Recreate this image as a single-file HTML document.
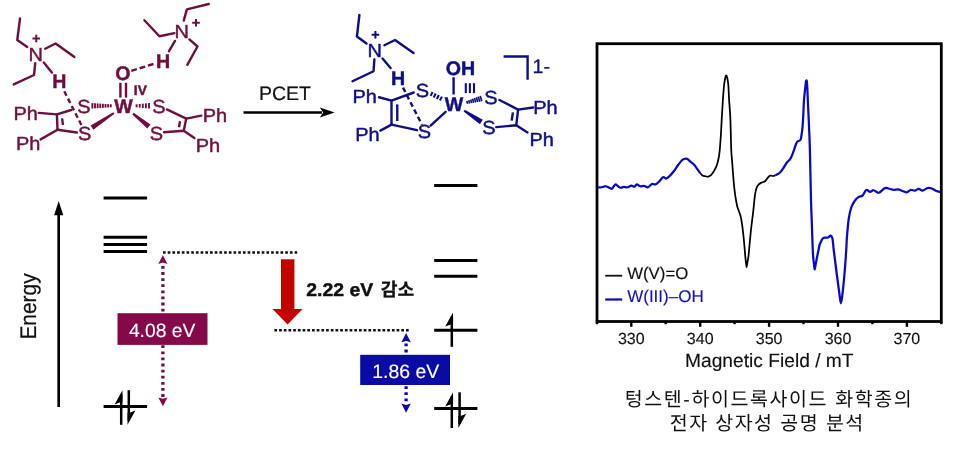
<!DOCTYPE html>
<html><head><meta charset="utf-8"><title>PCET tungsten hydroxide</title>
<style>
html,body{margin:0;padding:0;background:#fff;}
body{width:960px;height:450px;overflow:hidden;}
svg{display:block;font-family:"Liberation Sans",sans-serif;will-change:transform;}
text{text-rendering:geometricPrecision;}
</style></head><body>
<svg width="960" height="450" viewBox="0 0 960 450">
<rect width="960" height="450" fill="#fff"/>
<polyline points="20.00,18.50 17.25,40.00 27.25,46.90" fill="none" stroke="#6f0f41" stroke-width="2.4" stroke-linecap="round" stroke-linejoin="round" />
<polyline points="45.25,48.75 55.60,43.50 74.40,56.90" fill="none" stroke="#6f0f41" stroke-width="2.4" stroke-linecap="round" stroke-linejoin="round" />
<polyline points="35.25,63.10 34.00,75.00 13.75,84.40" fill="none" stroke="#6f0f41" stroke-width="2.4" stroke-linecap="round" stroke-linejoin="round" />
<polyline points="43.75,62.50 51.90,72.50" fill="none" stroke="#6f0f41" stroke-width="2.4" stroke-linecap="round" stroke-linejoin="round" />
<polyline points="32.45,38.50 40.05,38.50" fill="none" stroke="#6f0f41" stroke-width="2.0" stroke-linecap="butt" stroke-linejoin="round" />
<polyline points="36.25,34.70 36.25,42.30" fill="none" stroke="#6f0f41" stroke-width="2.0" stroke-linecap="butt" stroke-linejoin="round" />
<text transform="translate(28.4,60.7) scale(1.05,1)" font-size="19.0" fill="#6f0f41" font-weight="normal" text-anchor="start" stroke="#6f0f41" stroke-width="0.45" stroke-linejoin="round" >N</text>
<text x="52.35" y="88.2" font-size="19.6" fill="#6f0f41" font-weight="bold" text-anchor="start" stroke="#6f0f41" stroke-width="0.45" stroke-linejoin="round" >H</text>
<line x1="64.3" y1="91.3" x2="81.8" y2="125.8" stroke="#6f0f41" stroke-width="2.4" stroke-dasharray="5 3.2"/>
<text transform="translate(13.5,119.5) scale(1.05,1)" font-size="19.0" fill="#6f0f41" font-weight="normal" text-anchor="start" stroke="#6f0f41" stroke-width="0.45" stroke-linejoin="round" >Ph</text>
<text transform="translate(16.0,149.5) scale(1.05,1)" font-size="19.0" fill="#6f0f41" font-weight="normal" text-anchor="start" stroke="#6f0f41" stroke-width="0.45" stroke-linejoin="round" >Ph</text>
<polyline points="38.75,112.90 56.90,114.40 71.25,110.00" fill="none" stroke="#6f0f41" stroke-width="2.4" stroke-linecap="round" stroke-linejoin="round" />
<polyline points="56.90,114.40 57.50,129.75" fill="none" stroke="#6f0f41" stroke-width="2.4" stroke-linecap="round" stroke-linejoin="round" />
<polyline points="62.10,118.30 63.00,125.00" fill="none" stroke="#6f0f41" stroke-width="2.4" stroke-linecap="butt" stroke-linejoin="round" />
<polyline points="57.50,129.75 76.90,132.50" fill="none" stroke="#6f0f41" stroke-width="2.4" stroke-linecap="round" stroke-linejoin="round" />
<polyline points="40.60,139.40 57.50,129.75" fill="none" stroke="#6f0f41" stroke-width="2.4" stroke-linecap="round" stroke-linejoin="round" />
<text transform="translate(77.3,113.2) scale(1.05,1)" font-size="19.0" fill="#6f0f41" font-weight="normal" text-anchor="start" stroke="#6f0f41" stroke-width="0.45" stroke-linejoin="round" >S</text>
<text transform="translate(77.9,139.9) scale(1.05,1)" font-size="19.0" fill="#6f0f41" font-weight="normal" text-anchor="start" stroke="#6f0f41" stroke-width="0.45" stroke-linejoin="round" >S</text>
<polyline points="92.40,103.10 92.40,108.50" fill="none" stroke="#6f0f41" stroke-width="1.9" stroke-linecap="butt" stroke-linejoin="round" />
<polyline points="95.03,103.27 95.03,108.33" fill="none" stroke="#6f0f41" stroke-width="1.9" stroke-linecap="butt" stroke-linejoin="round" />
<polyline points="97.66,103.44 97.66,108.16" fill="none" stroke="#6f0f41" stroke-width="1.9" stroke-linecap="butt" stroke-linejoin="round" />
<polyline points="100.29,103.61 100.29,107.99" fill="none" stroke="#6f0f41" stroke-width="1.9" stroke-linecap="butt" stroke-linejoin="round" />
<polyline points="102.91,103.79 102.91,107.81" fill="none" stroke="#6f0f41" stroke-width="1.9" stroke-linecap="butt" stroke-linejoin="round" />
<polyline points="105.54,103.96 105.54,107.64" fill="none" stroke="#6f0f41" stroke-width="1.9" stroke-linecap="butt" stroke-linejoin="round" />
<polyline points="108.17,104.13 108.17,107.47" fill="none" stroke="#6f0f41" stroke-width="1.9" stroke-linecap="butt" stroke-linejoin="round" />
<polyline points="110.80,104.30 110.80,107.30" fill="none" stroke="#6f0f41" stroke-width="1.9" stroke-linecap="butt" stroke-linejoin="round" />
<polygon points="114.48,113.87 93.41,129.72 90.59,125.48 113.32,112.13" fill="#6f0f41"/>
<text x="115.35000000000001" y="80.1" font-size="19.6" fill="#6f0f41" font-weight="bold" text-anchor="start" stroke="#6f0f41" stroke-width="0.45" stroke-linejoin="round" >O</text>
<polyline points="120.40,82.80 120.40,97.60" fill="none" stroke="#6f0f41" stroke-width="2.4" stroke-linecap="butt" stroke-linejoin="round" />
<polyline points="126.00,82.80 126.00,97.60" fill="none" stroke="#6f0f41" stroke-width="2.4" stroke-linecap="butt" stroke-linejoin="round" />
<text x="133.85" y="94.8" font-size="13.8" fill="#6f0f41" font-weight="bold" text-anchor="start" stroke="#6f0f41" stroke-width="0.45" stroke-linejoin="round" >IV</text>
<text x="114.25" y="113.2" font-size="19.6" fill="#6f0f41" font-weight="bold" text-anchor="start" stroke="#6f0f41" stroke-width="0.45" stroke-linejoin="round" >W</text>
<line x1="131.3" y1="70.8" x2="154.2" y2="63.8" stroke="#6f0f41" stroke-width="2.4" stroke-dasharray="5.8 2.9"/>
<text x="156.04999999999998" y="68.2" font-size="19.6" fill="#6f0f41" font-weight="bold" text-anchor="start" stroke="#6f0f41" stroke-width="0.45" stroke-linejoin="round" >H</text>
<polyline points="175.00,40.90 169.00,51.20" fill="none" stroke="#6f0f41" stroke-width="2.4" stroke-linecap="round" stroke-linejoin="round" />
<text transform="translate(174.6,38.2) scale(1.05,1)" font-size="19.0" fill="#6f0f41" font-weight="normal" text-anchor="start" stroke="#6f0f41" stroke-width="0.45" stroke-linejoin="round" >N</text>
<polyline points="192.20,22.75 199.80,22.75" fill="none" stroke="#6f0f41" stroke-width="2.0" stroke-linecap="butt" stroke-linejoin="round" />
<polyline points="196.00,18.95 196.00,26.55" fill="none" stroke="#6f0f41" stroke-width="2.0" stroke-linecap="butt" stroke-linejoin="round" />
<polyline points="183.75,20.60 186.90,9.40 208.75,4.00" fill="none" stroke="#6f0f41" stroke-width="2.4" stroke-linecap="round" stroke-linejoin="round" />
<polyline points="174.40,33.10 159.40,36.25 144.40,20.25" fill="none" stroke="#6f0f41" stroke-width="2.4" stroke-linecap="round" stroke-linejoin="round" />
<polyline points="189.40,39.40 197.50,46.50 187.30,64.80" fill="none" stroke="#6f0f41" stroke-width="2.4" stroke-linecap="round" stroke-linejoin="round" />
<polyline points="136.60,104.30 136.60,107.30" fill="none" stroke="#6f0f41" stroke-width="1.9" stroke-linecap="butt" stroke-linejoin="round" />
<polyline points="139.70,103.97 139.70,107.62" fill="none" stroke="#6f0f41" stroke-width="1.9" stroke-linecap="butt" stroke-linejoin="round" />
<polyline points="142.80,103.65 142.80,107.95" fill="none" stroke="#6f0f41" stroke-width="1.9" stroke-linecap="butt" stroke-linejoin="round" />
<polyline points="145.90,103.33 145.90,108.27" fill="none" stroke="#6f0f41" stroke-width="1.9" stroke-linecap="butt" stroke-linejoin="round" />
<polyline points="149.00,103.00 149.00,108.60" fill="none" stroke="#6f0f41" stroke-width="1.9" stroke-linecap="butt" stroke-linejoin="round" />
<polygon points="133.66,112.78 150.50,124.41 147.30,128.39 132.34,114.42" fill="#6f0f41"/>
<text transform="translate(152.3,113.2) scale(1.05,1)" font-size="19.0" fill="#6f0f41" font-weight="normal" text-anchor="start" stroke="#6f0f41" stroke-width="0.45" stroke-linejoin="round" >S</text>
<text transform="translate(149.8,139.5) scale(1.05,1)" font-size="19.0" fill="#6f0f41" font-weight="normal" text-anchor="start" stroke="#6f0f41" stroke-width="0.45" stroke-linejoin="round" >S</text>
<polyline points="166.90,109.40 186.25,118.60 201.25,115.60" fill="none" stroke="#6f0f41" stroke-width="2.4" stroke-linecap="round" stroke-linejoin="round" />
<polyline points="186.25,118.60 183.75,130.80" fill="none" stroke="#6f0f41" stroke-width="2.4" stroke-linecap="round" stroke-linejoin="round" />
<polyline points="180.00,121.30 179.00,127.20" fill="none" stroke="#6f0f41" stroke-width="2.4" stroke-linecap="butt" stroke-linejoin="round" />
<polyline points="164.00,132.25 183.75,130.80 194.40,138.10" fill="none" stroke="#6f0f41" stroke-width="2.4" stroke-linecap="round" stroke-linejoin="round" />
<text transform="translate(202.7,121.5) scale(1.05,1)" font-size="19.0" fill="#6f0f41" font-weight="normal" text-anchor="start" stroke="#6f0f41" stroke-width="0.45" stroke-linejoin="round" >Ph</text>
<text transform="translate(195.8,152.1) scale(1.05,1)" font-size="19.0" fill="#6f0f41" font-weight="normal" text-anchor="start" stroke="#6f0f41" stroke-width="0.45" stroke-linejoin="round" >Ph</text>
<polyline points="243.50,112.50 322.00,112.50" fill="none" stroke="#000" stroke-width="2.6" stroke-linecap="butt" stroke-linejoin="round" />
<polygon points="334.6,112.5 319.8,107.5 323.2,112.5 319.8,117.5" fill="#000"/>
<text x="259.0" y="100.1" font-size="19.5" fill="#111" font-weight="normal" text-anchor="start" stroke="#111" stroke-width="0.2" stroke-linejoin="round" >PCET</text>
<polyline points="359.40,15.00 356.90,36.50 366.50,43.50" fill="none" stroke="#0f0f85" stroke-width="2.4" stroke-linecap="round" stroke-linejoin="round" />
<polyline points="384.40,45.25 395.00,40.00 413.50,53.10" fill="none" stroke="#0f0f85" stroke-width="2.4" stroke-linecap="round" stroke-linejoin="round" />
<polyline points="374.40,59.40 373.50,71.25 352.50,81.25" fill="none" stroke="#0f0f85" stroke-width="2.4" stroke-linecap="round" stroke-linejoin="round" />
<polyline points="382.50,58.50 390.60,68.10" fill="none" stroke="#0f0f85" stroke-width="2.4" stroke-linecap="round" stroke-linejoin="round" />
<polyline points="371.60,34.75 379.20,34.75" fill="none" stroke="#0f0f85" stroke-width="2.0" stroke-linecap="butt" stroke-linejoin="round" />
<polyline points="375.40,30.95 375.40,38.55" fill="none" stroke="#0f0f85" stroke-width="2.0" stroke-linecap="butt" stroke-linejoin="round" />
<text transform="translate(367.4,57.3) scale(1.05,1)" font-size="19.0" fill="#0f0f85" font-weight="normal" text-anchor="start" stroke="#0f0f85" stroke-width="0.45" stroke-linejoin="round" >N</text>
<text x="391.05" y="84.5" font-size="19.6" fill="#0f0f85" font-weight="bold" text-anchor="start" stroke="#0f0f85" stroke-width="0.45" stroke-linejoin="round" >H</text>
<line x1="403.0" y1="87.6" x2="422.0" y2="124.8" stroke="#0f0f85" stroke-width="2.4" stroke-dasharray="5 3.2"/>
<text transform="translate(352.4,103.2) scale(1.05,1)" font-size="19.0" fill="#0f0f85" font-weight="normal" text-anchor="start" stroke="#0f0f85" stroke-width="0.45" stroke-linejoin="round" >Ph</text>
<text transform="translate(355.3,141.3) scale(1.05,1)" font-size="19.0" fill="#0f0f85" font-weight="normal" text-anchor="start" stroke="#0f0f85" stroke-width="0.45" stroke-linejoin="round" >Ph</text>
<polyline points="379.00,97.25 391.50,100.60 413.75,92.50" fill="none" stroke="#0f0f85" stroke-width="2.4" stroke-linecap="round" stroke-linejoin="round" />
<polyline points="391.50,100.60 391.50,124.60" fill="none" stroke="#0f0f85" stroke-width="2.4" stroke-linecap="round" stroke-linejoin="round" />
<polyline points="397.25,104.40 397.25,121.00" fill="none" stroke="#0f0f85" stroke-width="2.4" stroke-linecap="butt" stroke-linejoin="round" />
<polyline points="391.50,124.60 417.00,130.20" fill="none" stroke="#0f0f85" stroke-width="2.4" stroke-linecap="round" stroke-linejoin="round" />
<polyline points="380.40,130.60 391.50,124.60" fill="none" stroke="#0f0f85" stroke-width="2.4" stroke-linecap="round" stroke-linejoin="round" />
<text transform="translate(415.7,96.6) scale(1.05,1)" font-size="19.0" fill="#0f0f85" font-weight="normal" text-anchor="start" stroke="#0f0f85" stroke-width="0.45" stroke-linejoin="round" >S</text>
<text transform="translate(417.7,138.4) scale(1.05,1)" font-size="19.0" fill="#0f0f85" font-weight="normal" text-anchor="start" stroke="#0f0f85" stroke-width="0.45" stroke-linejoin="round" >S</text>
<polyline points="432.59,91.94 430.61,95.86" fill="none" stroke="#0f0f85" stroke-width="2.1" stroke-linecap="butt" stroke-linejoin="round" />
<polyline points="435.69,93.50 433.71,97.43" fill="none" stroke="#0f0f85" stroke-width="2.1" stroke-linecap="butt" stroke-linejoin="round" />
<polyline points="438.79,95.07 436.81,99.00" fill="none" stroke="#0f0f85" stroke-width="2.1" stroke-linecap="butt" stroke-linejoin="round" />
<polyline points="441.89,96.64 439.91,100.56" fill="none" stroke="#0f0f85" stroke-width="2.1" stroke-linecap="butt" stroke-linejoin="round" />
<polyline points="445.60,111.90 430.60,125.60" fill="none" stroke="#0f0f85" stroke-width="2.4" stroke-linecap="round" stroke-linejoin="round" />
<text x="445.65" y="74.5" font-size="19.6" fill="#0f0f85" font-weight="bold" text-anchor="start" stroke="#0f0f85" stroke-width="0.45" stroke-linejoin="round" >OH</text>
<polyline points="453.60,77.20 453.60,94.50" fill="none" stroke="#0f0f85" stroke-width="2.4" stroke-linecap="butt" stroke-linejoin="round" />
<polyline points="465.80,83.20 465.80,93.10" fill="none" stroke="#0f0f85" stroke-width="2.1" stroke-linecap="butt" stroke-linejoin="round" />
<polyline points="469.90,83.20 469.90,93.10" fill="none" stroke="#0f0f85" stroke-width="2.1" stroke-linecap="butt" stroke-linejoin="round" />
<polyline points="474.00,83.20 474.00,93.10" fill="none" stroke="#0f0f85" stroke-width="2.1" stroke-linecap="butt" stroke-linejoin="round" />
<text x="444.84999999999997" y="110.7" font-size="19.6" fill="#0f0f85" font-weight="bold" text-anchor="start" stroke="#0f0f85" stroke-width="0.45" stroke-linejoin="round" >W</text>
<polyline points="466.80,100.95 467.60,103.85" fill="none" stroke="#0f0f85" stroke-width="1.7" stroke-linecap="butt" stroke-linejoin="round" />
<polyline points="468.72,100.23 469.62,103.48" fill="none" stroke="#0f0f85" stroke-width="1.7" stroke-linecap="butt" stroke-linejoin="round" />
<polyline points="470.65,99.51 471.64,103.12" fill="none" stroke="#0f0f85" stroke-width="1.7" stroke-linecap="butt" stroke-linejoin="round" />
<polyline points="472.57,98.79 473.66,102.75" fill="none" stroke="#0f0f85" stroke-width="1.7" stroke-linecap="butt" stroke-linejoin="round" />
<polyline points="474.49,98.07 475.68,102.39" fill="none" stroke="#0f0f85" stroke-width="1.7" stroke-linecap="butt" stroke-linejoin="round" />
<polyline points="476.41,97.34 477.70,102.03" fill="none" stroke="#0f0f85" stroke-width="1.7" stroke-linecap="butt" stroke-linejoin="round" />
<polyline points="478.33,96.62 479.72,101.66" fill="none" stroke="#0f0f85" stroke-width="1.7" stroke-linecap="butt" stroke-linejoin="round" />
<polyline points="480.26,95.90 481.74,101.30" fill="none" stroke="#0f0f85" stroke-width="1.7" stroke-linecap="butt" stroke-linejoin="round" />
<polygon points="464.78,109.72 482.81,119.87 479.99,124.13 463.62,111.48" fill="#0f0f85"/>
<text transform="translate(484.2,103.8) scale(1.05,1)" font-size="19.0" fill="#0f0f85" font-weight="normal" text-anchor="start" stroke="#0f0f85" stroke-width="0.45" stroke-linejoin="round" >S</text>
<text transform="translate(482.3,133.8) scale(1.05,1)" font-size="19.0" fill="#0f0f85" font-weight="normal" text-anchor="start" stroke="#0f0f85" stroke-width="0.45" stroke-linejoin="round" >S</text>
<polyline points="499.40,100.00 518.10,109.60 533.20,107.50" fill="none" stroke="#0f0f85" stroke-width="2.4" stroke-linecap="round" stroke-linejoin="round" />
<polyline points="518.10,109.60 516.25,125.30" fill="none" stroke="#0f0f85" stroke-width="2.4" stroke-linecap="round" stroke-linejoin="round" />
<polyline points="512.90,112.40 511.70,120.60" fill="none" stroke="#0f0f85" stroke-width="2.4" stroke-linecap="butt" stroke-linejoin="round" />
<polyline points="496.25,127.10 516.25,125.30 527.50,132.40" fill="none" stroke="#0f0f85" stroke-width="2.4" stroke-linecap="round" stroke-linejoin="round" />
<text transform="translate(533.2,114.3) scale(1.05,1)" font-size="19.0" fill="#0f0f85" font-weight="normal" text-anchor="start" stroke="#0f0f85" stroke-width="0.45" stroke-linejoin="round" >Ph</text>
<text transform="translate(529.4,145.9) scale(1.05,1)" font-size="19.0" fill="#0f0f85" font-weight="normal" text-anchor="start" stroke="#0f0f85" stroke-width="0.45" stroke-linejoin="round" >Ph</text>
<polyline points="503.60,56.50 527.60,56.50 527.60,79.80" fill="none" stroke="#0f0f85" stroke-width="2.4" stroke-linecap="butt" stroke-linejoin="miter" />
<text x="532.5" y="72.6" font-size="19.6" fill="#0f0f85" font-weight="normal" text-anchor="start" stroke="#0f0f85" stroke-width="0.3" stroke-linejoin="round" >1-</text>
<polyline points="58.70,213.00 58.70,407.00" fill="none" stroke="#000" stroke-width="2.7" stroke-linecap="butt" stroke-linejoin="round" />
<polygon points="58.7,201 54.1,215.2 63.3,215.2" fill="#000"/>
<text transform="translate(36.0,339.6) rotate(-90) scale(0.925,1)" font-size="22.6" fill="#111" stroke="#111" stroke-width="0.2">Energy</text>
<polyline points="103.60,198.00 147.10,198.00" fill="none" stroke="#000" stroke-width="3.0" stroke-linecap="butt" stroke-linejoin="round" />
<polyline points="103.60,237.20 147.10,237.20" fill="none" stroke="#000" stroke-width="3.0" stroke-linecap="butt" stroke-linejoin="round" />
<polyline points="103.60,244.40 147.10,244.40" fill="none" stroke="#000" stroke-width="3.0" stroke-linecap="butt" stroke-linejoin="round" />
<polyline points="103.60,251.60 147.10,251.60" fill="none" stroke="#000" stroke-width="3.0" stroke-linecap="butt" stroke-linejoin="round" />
<polyline points="103.60,406.40 147.10,406.40" fill="none" stroke="#000" stroke-width="3.0" stroke-linecap="butt" stroke-linejoin="round" />
<polyline points="434.20,185.60 477.40,185.60" fill="none" stroke="#000" stroke-width="3.0" stroke-linecap="butt" stroke-linejoin="round" />
<polyline points="434.20,260.60 477.40,260.60" fill="none" stroke="#000" stroke-width="3.0" stroke-linecap="butt" stroke-linejoin="round" />
<polyline points="434.20,276.30 477.40,276.30" fill="none" stroke="#000" stroke-width="3.0" stroke-linecap="butt" stroke-linejoin="round" />
<polyline points="434.20,330.20 477.40,330.20" fill="none" stroke="#000" stroke-width="3.0" stroke-linecap="butt" stroke-linejoin="round" />
<polyline points="434.20,408.60 477.40,408.60" fill="none" stroke="#000" stroke-width="3.0" stroke-linecap="butt" stroke-linejoin="round" />
<polyline points="121.20,394.20 121.20,424.80" fill="none" stroke="#000" stroke-width="2.5" stroke-linecap="butt" stroke-linejoin="round" />
<polygon points="122.45,390.2 114.60000000000001,404.4 120.2,402.2 122.45,402.2" fill="#000"/>
<polyline points="128.80,390.20 128.80,420.80" fill="none" stroke="#000" stroke-width="2.5" stroke-linecap="butt" stroke-linejoin="round" />
<polygon points="127.55000000000001,424.8 135.4,410.6 129.8,412.8 127.55000000000001,412.8" fill="#000"/>
<polyline points="451.80,316.40 451.80,346.80" fill="none" stroke="#000" stroke-width="2.5" stroke-linecap="butt" stroke-linejoin="round" />
<polygon points="453.05,312.4 445.2,326.59999999999997 450.8,324.4 453.05,324.4" fill="#000"/>
<polyline points="451.80,396.30 451.80,428.00" fill="none" stroke="#000" stroke-width="2.5" stroke-linecap="butt" stroke-linejoin="round" />
<polygon points="453.05,392.3 445.2,406.5 450.8,404.3 453.05,404.3" fill="#000"/>
<polyline points="459.60,392.30 459.60,424.00" fill="none" stroke="#000" stroke-width="2.5" stroke-linecap="butt" stroke-linejoin="round" />
<polygon points="458.35,428.0 466.20000000000005,413.8 460.6,416.0 458.35,416.0" fill="#000"/>
<line x1="163.0" y1="252.4" x2="297.2" y2="252.4" stroke="#111" stroke-width="2.5" stroke-dasharray="2.7 2.0"/>
<line x1="274.4" y1="330.2" x2="409.4" y2="330.2" stroke="#111" stroke-width="2.5" stroke-dasharray="2.7 2.0"/>
<line x1="162.9" y1="266.0" x2="162.9" y2="397.0" stroke="#760b46" stroke-width="3.3" stroke-dasharray="2.8 3.3"/>
<polygon points="162.9,255.0 158.3,263.9 162.9,262.6 167.5,263.9" fill="#85094a"/>
<polygon points="162.9,406.3 158.3,397.4 162.9,398.7 167.5,397.4" fill="#85094a"/>
<rect x="117.5" y="313.2" width="90" height="31.7" fill="#85094a"/>
<text x="128.9" y="336.5" font-size="19.3" fill="#fff" font-weight="normal" text-anchor="start" stroke="#fff" stroke-width="0.15" stroke-linejoin="round" >4.08 eV</text>
<line x1="406.1" y1="343.5" x2="406.1" y2="404" stroke="#0a0aa5" stroke-width="3.3" stroke-dasharray="2.8 3.3"/>
<polygon points="406.1,333.0 401.4,342.2 406.1,340.9 410.8,342.2" fill="#0a0aa5"/>
<polygon points="406.1,412.8 401.4,403.6 406.1,404.9 410.8,403.6" fill="#0a0aa5"/>
<rect x="360.2" y="354.8" width="89.8" height="30.2" fill="#0a0aa5"/>
<text x="372.3" y="378.2" font-size="19.4" fill="#fff" font-weight="normal" text-anchor="start" stroke="#fff" stroke-width="0.15" stroke-linejoin="round" >1.86 eV</text>
<polygon points="281.0,259.2 294.4,259.2 294.4,309.0 302.6,309.0 287.6,324.4 272.5,309.0 281.0,309.0" fill="#c40000"/>
<text transform="translate(306.3,295.7) scale(1.055,1)" font-size="18.4" fill="#111" font-weight="bold" text-anchor="start" stroke="#111" stroke-width="0.45" stroke-linejoin="round" >2.22 eV</text>
<text x="380.8" y="295.9" font-size="18.2" fill="#111" font-weight="bold" text-anchor="start" stroke="#111" stroke-width="0.3" stroke-linejoin="round" style="font-family:'Liberation Sans','Noto Sans CJK KR',sans-serif;">감소</text>
<rect x="597.0" y="43.7" width="344.3" height="277.8" fill="none" stroke="#000" stroke-width="2.8"/>
<polyline points="631.30,321.50 631.30,326.80" fill="none" stroke="#000" stroke-width="2.4" stroke-linecap="butt" stroke-linejoin="round" />
<polyline points="700.20,321.50 700.20,326.80" fill="none" stroke="#000" stroke-width="2.4" stroke-linecap="butt" stroke-linejoin="round" />
<polyline points="769.10,321.50 769.10,326.80" fill="none" stroke="#000" stroke-width="2.4" stroke-linecap="butt" stroke-linejoin="round" />
<polyline points="838.00,321.50 838.00,326.80" fill="none" stroke="#000" stroke-width="2.4" stroke-linecap="butt" stroke-linejoin="round" />
<polyline points="906.90,321.50 906.90,326.80" fill="none" stroke="#000" stroke-width="2.4" stroke-linecap="butt" stroke-linejoin="round" />
<polyline points="597.00,321.50 597.00,324.20" fill="none" stroke="#000" stroke-width="2.4" stroke-linecap="butt" stroke-linejoin="round" />
<polyline points="665.70,321.50 665.70,324.20" fill="none" stroke="#000" stroke-width="2.4" stroke-linecap="butt" stroke-linejoin="round" />
<polyline points="734.60,321.50 734.60,324.20" fill="none" stroke="#000" stroke-width="2.4" stroke-linecap="butt" stroke-linejoin="round" />
<polyline points="803.50,321.50 803.50,324.20" fill="none" stroke="#000" stroke-width="2.4" stroke-linecap="butt" stroke-linejoin="round" />
<polyline points="872.40,321.50 872.40,324.20" fill="none" stroke="#000" stroke-width="2.4" stroke-linecap="butt" stroke-linejoin="round" />
<polyline points="941.30,321.50 941.30,324.20" fill="none" stroke="#000" stroke-width="2.4" stroke-linecap="butt" stroke-linejoin="round" />
<text x="631.3" y="343.6" font-size="16" fill="#111" font-weight="normal" text-anchor="middle" stroke="#111" stroke-width="0.15" stroke-linejoin="round" >330</text>
<text x="700.2" y="343.6" font-size="16" fill="#111" font-weight="normal" text-anchor="middle" stroke="#111" stroke-width="0.15" stroke-linejoin="round" >340</text>
<text x="769.1" y="343.6" font-size="16" fill="#111" font-weight="normal" text-anchor="middle" stroke="#111" stroke-width="0.15" stroke-linejoin="round" >350</text>
<text x="838.0" y="343.6" font-size="16" fill="#111" font-weight="normal" text-anchor="middle" stroke="#111" stroke-width="0.15" stroke-linejoin="round" >360</text>
<text x="906.9" y="343.6" font-size="16" fill="#111" font-weight="normal" text-anchor="middle" stroke="#111" stroke-width="0.15" stroke-linejoin="round" >370</text>
<text x="769.3" y="367.4" font-size="19.2" fill="#111" font-weight="normal" text-anchor="middle" stroke="#111" stroke-width="0.15" stroke-linejoin="round" >Magnetic Field / mT</text>
<polyline points="605.20,275.70 622.20,275.70" fill="none" stroke="#111" stroke-width="1.8" stroke-linecap="butt" stroke-linejoin="round" />
<polyline points="605.20,299.50 622.20,299.50" fill="none" stroke="#0808c8" stroke-width="2.2" stroke-linecap="butt" stroke-linejoin="round" />
<text x="627.2" y="278.9" font-size="16.8" fill="#111" font-weight="normal" text-anchor="start" stroke="#111" stroke-width="0.15" stroke-linejoin="round" >W(V)=O</text>
<text x="627.2" y="301.7" font-size="17.0" fill="#1515b0" font-weight="normal" text-anchor="start" stroke="#1515b0" stroke-width="0.15" stroke-linejoin="round" >W(III)–OH</text>
<path d="M700.25,173.10 C700.62,173.52 701.61,175.07 702.50,175.60 C703.39,176.12 704.67,176.07 705.60,176.25 C706.53,176.43 707.16,176.94 708.10,176.70 C709.04,176.46 710.20,175.85 711.25,174.80 C712.30,173.75 713.46,172.03 714.40,170.40 C715.34,168.77 716.17,167.15 716.90,165.00 C717.62,162.85 718.27,160.00 718.75,157.50 C719.23,155.00 719.38,154.08 719.75,150.00 C720.12,145.92 720.64,138.67 721.00,133.00 C721.36,127.33 721.58,121.50 721.90,116.00 C722.22,110.50 722.55,105.00 722.90,100.00 C723.25,95.00 723.62,89.67 724.00,86.00 C724.38,82.33 724.83,79.78 725.20,78.00 C725.58,76.22 725.90,75.30 726.25,75.30 C726.60,75.30 726.94,76.22 727.30,78.00 C727.66,79.78 728.10,82.33 728.40,86.00 C728.70,89.67 728.79,95.00 729.10,100.00 C729.41,105.00 729.97,110.50 730.25,116.00 C730.53,121.50 730.63,127.33 730.80,133.00 C730.97,138.67 730.97,144.46 731.25,150.00 C731.53,155.54 732.08,160.83 732.50,166.25 C732.92,171.67 733.33,177.92 733.75,182.50 C734.17,187.08 734.62,190.83 735.00,193.75 C735.38,196.67 735.60,197.79 736.00,200.00 C736.40,202.21 736.63,204.29 737.40,207.00 C738.17,209.71 739.75,212.83 740.60,216.25 C741.45,219.67 741.93,223.33 742.50,227.50 C743.07,231.67 743.54,236.50 744.00,241.25 C744.46,246.00 744.92,252.38 745.25,256.00 C745.58,259.62 745.77,261.12 746.00,263.00 C746.23,264.88 746.38,267.30 746.60,267.30 C746.82,267.30 746.98,264.88 747.30,263.00 C747.62,261.12 748.09,259.42 748.50,256.00 C748.91,252.58 749.29,247.25 749.75,242.50 C750.21,237.75 750.69,232.50 751.25,227.50 C751.81,222.50 752.64,216.42 753.10,212.50 C753.56,208.58 753.72,206.67 754.00,204.00 C754.28,201.33 754.42,199.04 754.80,196.50 C755.17,193.96 755.59,190.77 756.25,188.75 C756.91,186.73 757.81,185.44 758.75,184.40 C759.69,183.36 760.86,183.03 761.90,182.50 C762.94,181.97 764.07,181.98 765.00,181.25 C765.93,180.52 766.67,179.04 767.50,178.10 C768.33,177.16 769.07,175.95 770.00,175.60 C770.93,175.25 772.17,176.07 773.10,176.00 C774.03,175.93 775.18,175.33 775.60,175.20" fill="none" stroke="#000" stroke-width="1.75" stroke-linejoin="round"/>
<path d="M597.60,187.50 C598.32,187.46 600.57,187.46 601.90,187.25 C603.23,187.04 604.46,186.21 605.60,186.25 C606.74,186.29 607.70,187.08 608.75,187.50 C609.80,187.92 611.07,188.96 611.90,188.75 C612.73,188.54 613.13,186.97 613.75,186.25 C614.37,185.53 614.88,184.40 615.60,184.40 C616.33,184.40 617.27,185.69 618.10,186.25 C618.93,186.81 619.66,187.64 620.60,187.75 C621.54,187.86 622.60,186.98 623.75,186.90 C624.90,186.82 626.25,187.47 627.50,187.25 C628.75,187.03 630.10,185.71 631.25,185.60 C632.40,185.49 633.46,186.80 634.40,186.60 C635.34,186.40 635.97,184.46 636.90,184.40 C637.83,184.34 638.75,185.98 640.00,186.25 C641.25,186.52 643.05,185.83 644.40,186.00 C645.75,186.17 646.85,187.58 648.10,187.25 C649.35,186.92 650.65,184.47 651.90,184.00 C653.15,183.53 654.35,184.86 655.60,184.40 C656.85,183.94 658.15,182.44 659.40,181.25 C660.65,180.06 661.96,177.71 663.10,177.25 C664.24,176.79 665.20,178.67 666.25,178.50 C667.30,178.33 668.15,177.46 669.40,176.25 C670.65,175.04 672.30,173.12 673.75,171.25 C675.20,169.38 676.64,166.92 678.10,165.00 C679.56,163.08 681.35,160.79 682.50,159.75 C683.65,158.71 684.17,158.86 685.00,158.75 C685.83,158.64 686.57,158.57 687.50,159.10 C688.43,159.62 689.45,160.92 690.60,161.90 C691.75,162.88 693.25,163.75 694.40,165.00 C695.55,166.25 696.52,168.05 697.50,169.40 C698.48,170.75 699.79,172.48 700.25,173.10" fill="none" stroke="#0808c8" stroke-width="2.25" stroke-linejoin="round"/>
<path d="M775.60,175.20 C776.33,174.75 778.64,173.78 780.00,172.50 C781.36,171.22 782.60,169.17 783.75,167.50 C784.90,165.83 785.86,163.85 786.90,162.50 C787.94,161.15 789.12,160.65 790.00,159.40 C790.88,158.15 791.53,156.57 792.20,155.00 C792.87,153.43 793.37,151.83 794.00,150.00 C794.63,148.17 795.42,145.42 796.00,144.00 C796.58,142.58 796.77,142.17 797.50,141.50 C798.23,140.83 799.73,141.08 800.40,140.00 C801.07,138.92 801.15,137.08 801.50,135.00 C801.85,132.92 802.20,130.83 802.50,127.50 C802.80,124.17 803.05,119.58 803.30,115.00 C803.55,110.42 803.68,104.50 804.00,100.00 C804.32,95.50 804.87,91.08 805.20,88.00 C805.53,84.92 805.80,82.78 806.00,81.50 C806.20,80.22 806.25,80.30 806.40,80.30 C806.55,80.30 806.75,80.22 806.90,81.50 C807.05,82.78 807.15,84.92 807.30,88.00 C807.45,91.08 807.52,93.67 807.80,100.00 C808.08,106.33 808.65,117.67 809.00,126.00 C809.35,134.33 809.57,137.67 809.90,150.00 C810.23,162.33 810.67,187.50 811.00,200.00 C811.33,212.50 811.61,216.67 811.90,225.00 C812.19,233.33 812.48,244.17 812.75,250.00 C813.02,255.83 813.26,257.33 813.50,260.00 C813.74,262.67 814.00,264.40 814.20,266.00 C814.40,267.60 814.50,269.60 814.70,269.60 C814.90,269.60 815.10,267.60 815.40,266.00 C815.70,264.40 815.98,262.67 816.50,260.00 C817.02,257.33 817.92,252.71 818.50,250.00 C819.08,247.29 819.23,245.73 820.00,243.75 C820.77,241.77 821.75,239.14 823.10,238.10 C824.45,237.06 826.85,237.92 828.10,237.50 C829.35,237.08 829.87,235.39 830.60,235.60 C831.33,235.81 831.98,236.35 832.50,238.75 C833.02,241.15 833.02,243.96 833.75,250.00 C834.48,256.04 835.96,267.71 836.90,275.00 C837.84,282.29 838.73,289.03 839.40,293.75 C840.07,298.47 840.38,303.30 840.90,303.30 C841.42,303.30 841.92,298.47 842.50,293.75 C843.08,289.03 843.77,282.29 844.40,275.00 C845.02,267.71 845.83,256.25 846.25,250.00 C846.67,243.75 846.48,242.71 846.90,237.50 C847.32,232.29 848.02,223.75 848.75,218.75 C849.48,213.75 850.21,210.54 851.25,207.50 C852.29,204.46 853.75,202.27 855.00,200.50 C856.25,198.73 857.50,197.72 858.75,196.90 C860.00,196.08 861.25,196.75 862.50,195.60 C863.75,194.45 865.00,190.62 866.25,190.00 C867.50,189.38 868.75,191.86 870.00,191.90 C871.25,191.94 872.29,190.11 873.75,190.25 C875.21,190.39 876.88,193.11 878.75,192.75 C880.62,192.39 883.12,188.72 885.00,188.10 C886.88,187.47 888.54,188.72 890.00,189.00 C891.46,189.28 892.40,189.68 893.75,189.75 C895.10,189.82 896.64,189.19 898.10,189.40 C899.56,189.61 901.03,190.53 902.50,191.00 C903.97,191.47 905.55,192.42 906.90,192.25 C908.25,192.08 909.25,190.28 910.60,190.00 C911.95,189.72 913.64,190.81 915.00,190.60 C916.36,190.39 917.50,188.75 918.75,188.75 C920.00,188.75 921.04,190.71 922.50,190.60 C923.96,190.49 925.93,188.45 927.50,188.10 C929.07,187.75 930.44,188.02 931.90,188.50 C933.36,188.98 934.80,190.43 936.25,191.00 C937.70,191.57 939.88,191.75 940.60,191.90" fill="none" stroke="#0808c8" stroke-width="2.25" stroke-linejoin="round"/>
<text x="768.2" y="405.6" font-size="19.5" fill="#111" font-weight="normal" text-anchor="middle" textLength="287" lengthAdjust="spacing" style="font-family:'Liberation Sans','Noto Sans CJK KR',sans-serif;">텅스텐-하이드록사이드 화학종의</text>
<text x="766.5" y="429.7" font-size="19.5" fill="#111" font-weight="normal" text-anchor="middle" textLength="193.5" lengthAdjust="spacing" style="font-family:'Liberation Sans','Noto Sans CJK KR',sans-serif;">전자 상자성 공명 분석</text>
</svg>
</body></html>
